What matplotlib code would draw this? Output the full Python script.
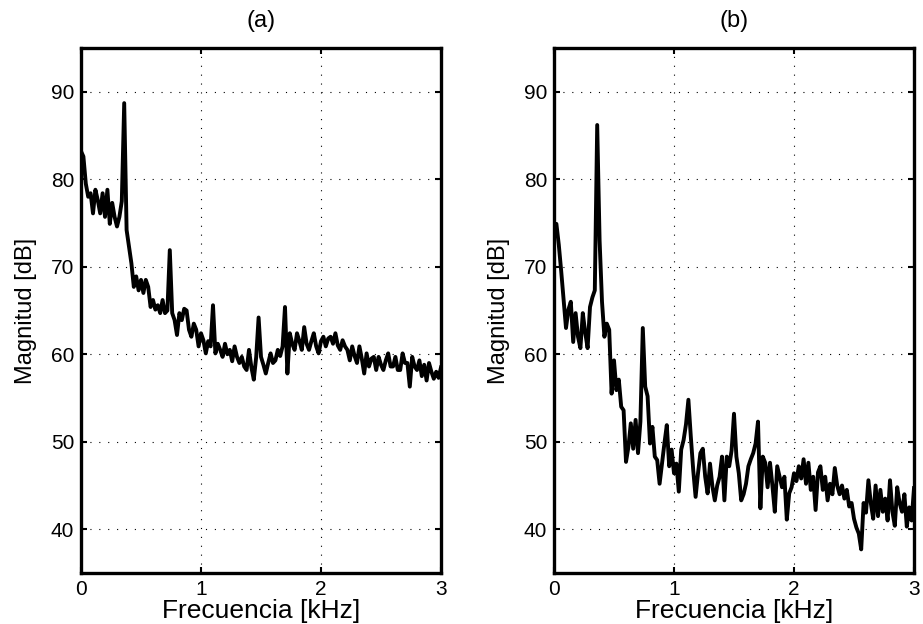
import numpy as np
import matplotlib
matplotlib.use('Agg')
import matplotlib.pyplot as plt

plt.rcParams['font.family'] = ['Liberation Sans', 'DejaVu Sans']

# magnitude spectra, one value every 0.02 kHz (0 .. 3 kHz)
mag_a = [
    83.2, 82.6, 79.5, 78.0, 78.4, 76.1, 78.8, 77.6, 76.1, 78.4,
    75.7, 78.8, 74.9, 77.3, 75.7, 74.6, 75.7, 77.5, 88.7, 74.2,
    72.3, 70.4, 67.7, 68.9, 67.3, 68.5, 67.0, 68.5, 67.7, 65.4,
    66.2, 65.1, 65.6, 64.7, 66.2, 64.7, 65.0, 71.9, 64.7, 63.9,
    62.2, 64.7, 63.9, 65.2, 65.0, 62.8, 62.0, 63.5, 62.8, 60.9,
    62.4, 61.6, 60.1, 61.5, 60.9, 65.6, 60.1, 61.2, 60.5, 59.7,
    61.2, 60.0, 60.5, 59.2, 60.9, 59.7, 59.0, 59.7, 58.6, 58.2,
    60.5, 58.5, 57.1, 59.7, 64.2, 59.7, 58.8, 57.8, 59.0, 60.1,
    59.0, 59.3, 60.5, 59.8, 60.9, 65.4, 57.8, 62.4, 61.2, 60.5,
    62.4, 61.5, 60.5, 63.1, 61.2, 60.5, 61.5, 62.4, 60.9, 60.1,
    61.5, 62.0, 60.9, 61.8, 62.0, 61.2, 62.4, 61.0, 60.5, 61.6,
    60.9, 60.5, 59.3, 60.9, 59.8, 59.0, 60.9, 59.5, 57.8, 60.1,
    58.6, 59.5, 59.7, 58.2, 59.7, 58.8, 58.2, 59.3, 60.1, 58.6,
    58.6, 59.7, 58.2, 58.2, 60.1, 59.0, 59.0, 56.3, 59.7, 58.6,
    58.2, 59.3, 57.5, 58.8, 57.0, 59.0, 58.0, 57.2, 58.0, 57.3,
    58.5,
]

mag_b = [
    73.4, 74.9, 72.5, 69.5, 66.2, 63.0, 65.1, 66.0, 61.4, 64.7,
    62.0, 60.7, 64.7, 62.5, 60.7, 65.4, 66.5, 67.3, 86.2, 73.0,
    66.0, 62.0, 63.5, 62.8, 55.5, 59.3, 55.9, 57.1, 54.0, 53.6,
    47.7, 49.4, 52.1, 49.2, 52.5, 48.7, 52.3, 63.0, 56.3, 55.2,
    49.8, 51.7, 48.3, 47.9, 45.2, 47.5, 49.8, 51.9, 47.2, 49.1,
    46.4, 47.5, 44.3, 49.1, 50.2, 52.0, 54.8, 50.6, 46.8, 43.7,
    46.4, 48.7, 49.2, 46.0, 44.1, 47.5, 44.9, 43.3, 45.0, 46.0,
    48.3, 43.3, 48.3, 47.2, 49.0, 53.2, 48.3, 46.4, 43.3, 44.0,
    45.2, 47.2, 48.0, 48.7, 49.8, 52.3, 42.4, 48.3, 47.6, 44.8,
    47.6, 45.0, 42.0, 47.2, 46.0, 44.8, 46.0, 41.1, 44.1, 44.8,
    46.4, 45.5, 47.2, 45.8, 48.0, 45.2, 47.6, 44.5, 46.0, 42.2,
    46.5, 47.2, 44.5, 46.0, 43.3, 45.2, 44.0, 47.0, 45.0, 44.0,
    45.0, 43.5, 44.5, 42.6, 43.0, 41.2, 40.2, 39.5, 37.7, 43.0,
    41.9, 45.6, 43.0, 41.2, 45.0, 41.5, 44.5, 42.0, 43.5, 41.0,
    45.6, 42.0, 40.4, 44.8, 43.0, 42.0, 44.0, 40.3, 42.5, 41.0,
    44.7,
]

freq_a = np.linspace(0, 3, len(mag_a))
freq_b = np.linspace(0, 3, len(mag_b))

titles = ['(a)', '(b)']
xticks = [0, 1, 2, 3]
yticks = [40, 50, 60, 70, 80, 90]

W, H = 923, 624
fig = plt.figure(figsize=(W / 100, H / 100), dpi=100)

ax_a = fig.add_axes([81 / W, 1 - 573 / H, 360 / W, 525 / H])
ax_b = fig.add_axes([554 / W, 1 - 573 / H, 360 / W, 525 / H])

for ax, f, m, t in [(ax_a, freq_a, mag_a, titles[0]), (ax_b, freq_b, mag_b, titles[1])]:
    ax.plot(f, m, color='black', lw=2.8, solid_joinstyle='round')
    ax.set_xlim(0, 3)
    ax.set_ylim(35, 95)
    ax.set_xticks(xticks)
    ax.set_yticks(yticks)
    ax.grid(True, color='black', lw=0.8, linestyle=(0, (1, 7)))
    ax.tick_params(direction='in', length=4, width=1.5, top=True, right=True,
                   labelsize=15, pad=5)
    for s in ax.spines.values():
        s.set_linewidth(2.4)
    ax.set_xlabel('Frecuencia [kHz]', fontsize=19, labelpad=0)
    ax.set_ylabel('Magnitud [dB]', fontsize=17, labelpad=10)
    ax.set_title(t, fontsize=17, pad=15)

fig.savefig('out.png', dpi=100)
